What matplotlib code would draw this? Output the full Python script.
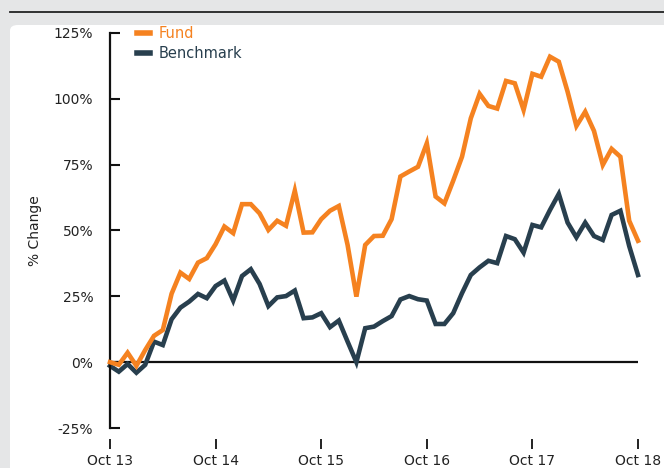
import matplotlib
matplotlib.use("Agg")
import matplotlib.pyplot as plt
from matplotlib.patches import FancyBboxPatch
from matplotlib.lines import Line2D

# monthly points, Oct 13 .. Oct 18
tick_labels = ["Oct 13", "Oct 14", "Oct 15", "Oct 16", "Oct 17", "Oct 18"]

fund = [0, -1, 3.6, -1.4, 4.6, 10, 12.2, 26, 34, 31.6, 37.8, 39.5,
        44.8, 51.5, 49, 60, 60, 56.5, 50.2, 53.7, 51.8, 65.1, 49.2, 49.3,
        54.3, 57.5, 59.3, 44.5, 24.9, 44.5, 47.9, 48, 54.3, 70.5, 72.4, 74.2,
        83.1, 62.9, 60.3, 68.9, 78, 92.6, 101.9, 97.3, 96.3, 106.8, 105.9, 95.8,
        109.5, 108.4, 116, 114.1, 102.7, 89.7, 95.1, 87.8, 74.9, 81, 78, 53.7,
        46.1]

benchmark = [-1.4, -3.6, -0.7, -4, -1, 7.8, 6.5, 16.3, 20.7, 23, 25.9, 24.3,
             28.9, 31, 23.4, 32.7, 35.3, 29.7, 21.3, 24.6, 25.1, 27.2, 16.7, 17,
             18.6, 13.3, 15.8, 7.8, 0, 12.9, 13.5, 15.6, 17.5, 23.8, 25.1, 23.9,
             23.4, 14.5, 14.5, 18.6, 26.2, 33.1, 36, 38.5, 37.6, 47.9, 46.7, 41.6,
             52.1, 51.2, 57.8, 63.9, 53, 47.4, 53, 47.9, 46.4, 55.9, 57.5, 44.1,
             33.1]

y_ticks = [-25, 0, 25, 50, 75, 100, 125]

FUND_COLOR = "#F58220"
BENCH_COLOR = "#283F4E"
TEXT_COLOR = "#222222"
BG = "#E5E6E7"

fig = plt.figure(figsize=(6.64, 4.68), dpi=100)
fig.patch.set_facecolor(BG)

# white card and header rule, drawn behind the axes
card = FancyBboxPatch((10 / 664, -0.1), 1.1, 1 - 25 / 468 + 0.1,
                      boxstyle="round,pad=0,rounding_size=0.012",
                      transform=fig.transFigure, facecolor="white",
                      edgecolor="none", zorder=-5)
fig.add_artist(card)
fig.add_artist(Line2D([10 / 664, 1], [1 - 11.5 / 468] * 2, color="#222222",
                      lw=1.3, transform=fig.transFigure, zorder=-4))

ax = fig.add_axes([110 / 664, 1 - 428 / 468, 528 / 664, 395 / 468])
ax.set_facecolor("none")
ax.set_zorder(1)

x = list(range(len(fund)))
ax.axhline(0, color="#111111", lw=1.6, zorder=1)
ax.plot(x, fund, color=FUND_COLOR, lw=3.3, label="Fund",
        solid_joinstyle="miter", clip_on=False, zorder=3)
ax.plot(x, benchmark, color=BENCH_COLOR, lw=3.3, label="Benchmark",
        solid_joinstyle="miter", clip_on=False, zorder=2)

ax.set_xlim(0, 60)
ax.set_ylim(-25, 125)
ax.set_xticks(range(0, 61, 12))
ax.set_xticklabels(tick_labels)
ax.set_yticks(y_ticks)
ax.set_yticklabels([f"{v}%" for v in y_ticks])

for s in ["top", "right"]:
    ax.spines[s].set_visible(False)
ax.spines["left"].set_linewidth(1.6)
ax.spines["left"].set_color("#111111")
ax.spines["bottom"].set_position(("outward", 8))
ax.spines["bottom"].set_visible(False)

ax.tick_params(axis="y", direction="in", length=7, width=1.5, color="#111111",
               pad=12, labelsize=10, labelcolor=TEXT_COLOR)
ax.tick_params(axis="x", direction="out", length=7, width=1.3, color="#111111",
               pad=4, labelsize=10, labelcolor=TEXT_COLOR)

ax.set_ylabel("% Change", fontsize=10, color=TEXT_COLOR)
ax.yaxis.set_label_coords(-0.128, 0.5)

leg = ax.legend(loc="upper left", bbox_to_anchor=(0.041, 1.032), frameon=False,
                handlelength=0.85, handletextpad=0.6, labelspacing=0.34,
                fontsize=10.5, borderaxespad=0)
for h in leg.get_lines():
    h.set_linewidth(4)
leg.get_texts()[0].set_color(FUND_COLOR)
leg.get_texts()[1].set_color(BENCH_COLOR)

fig.savefig("out.png", dpi=100, facecolor=fig.get_facecolor())
